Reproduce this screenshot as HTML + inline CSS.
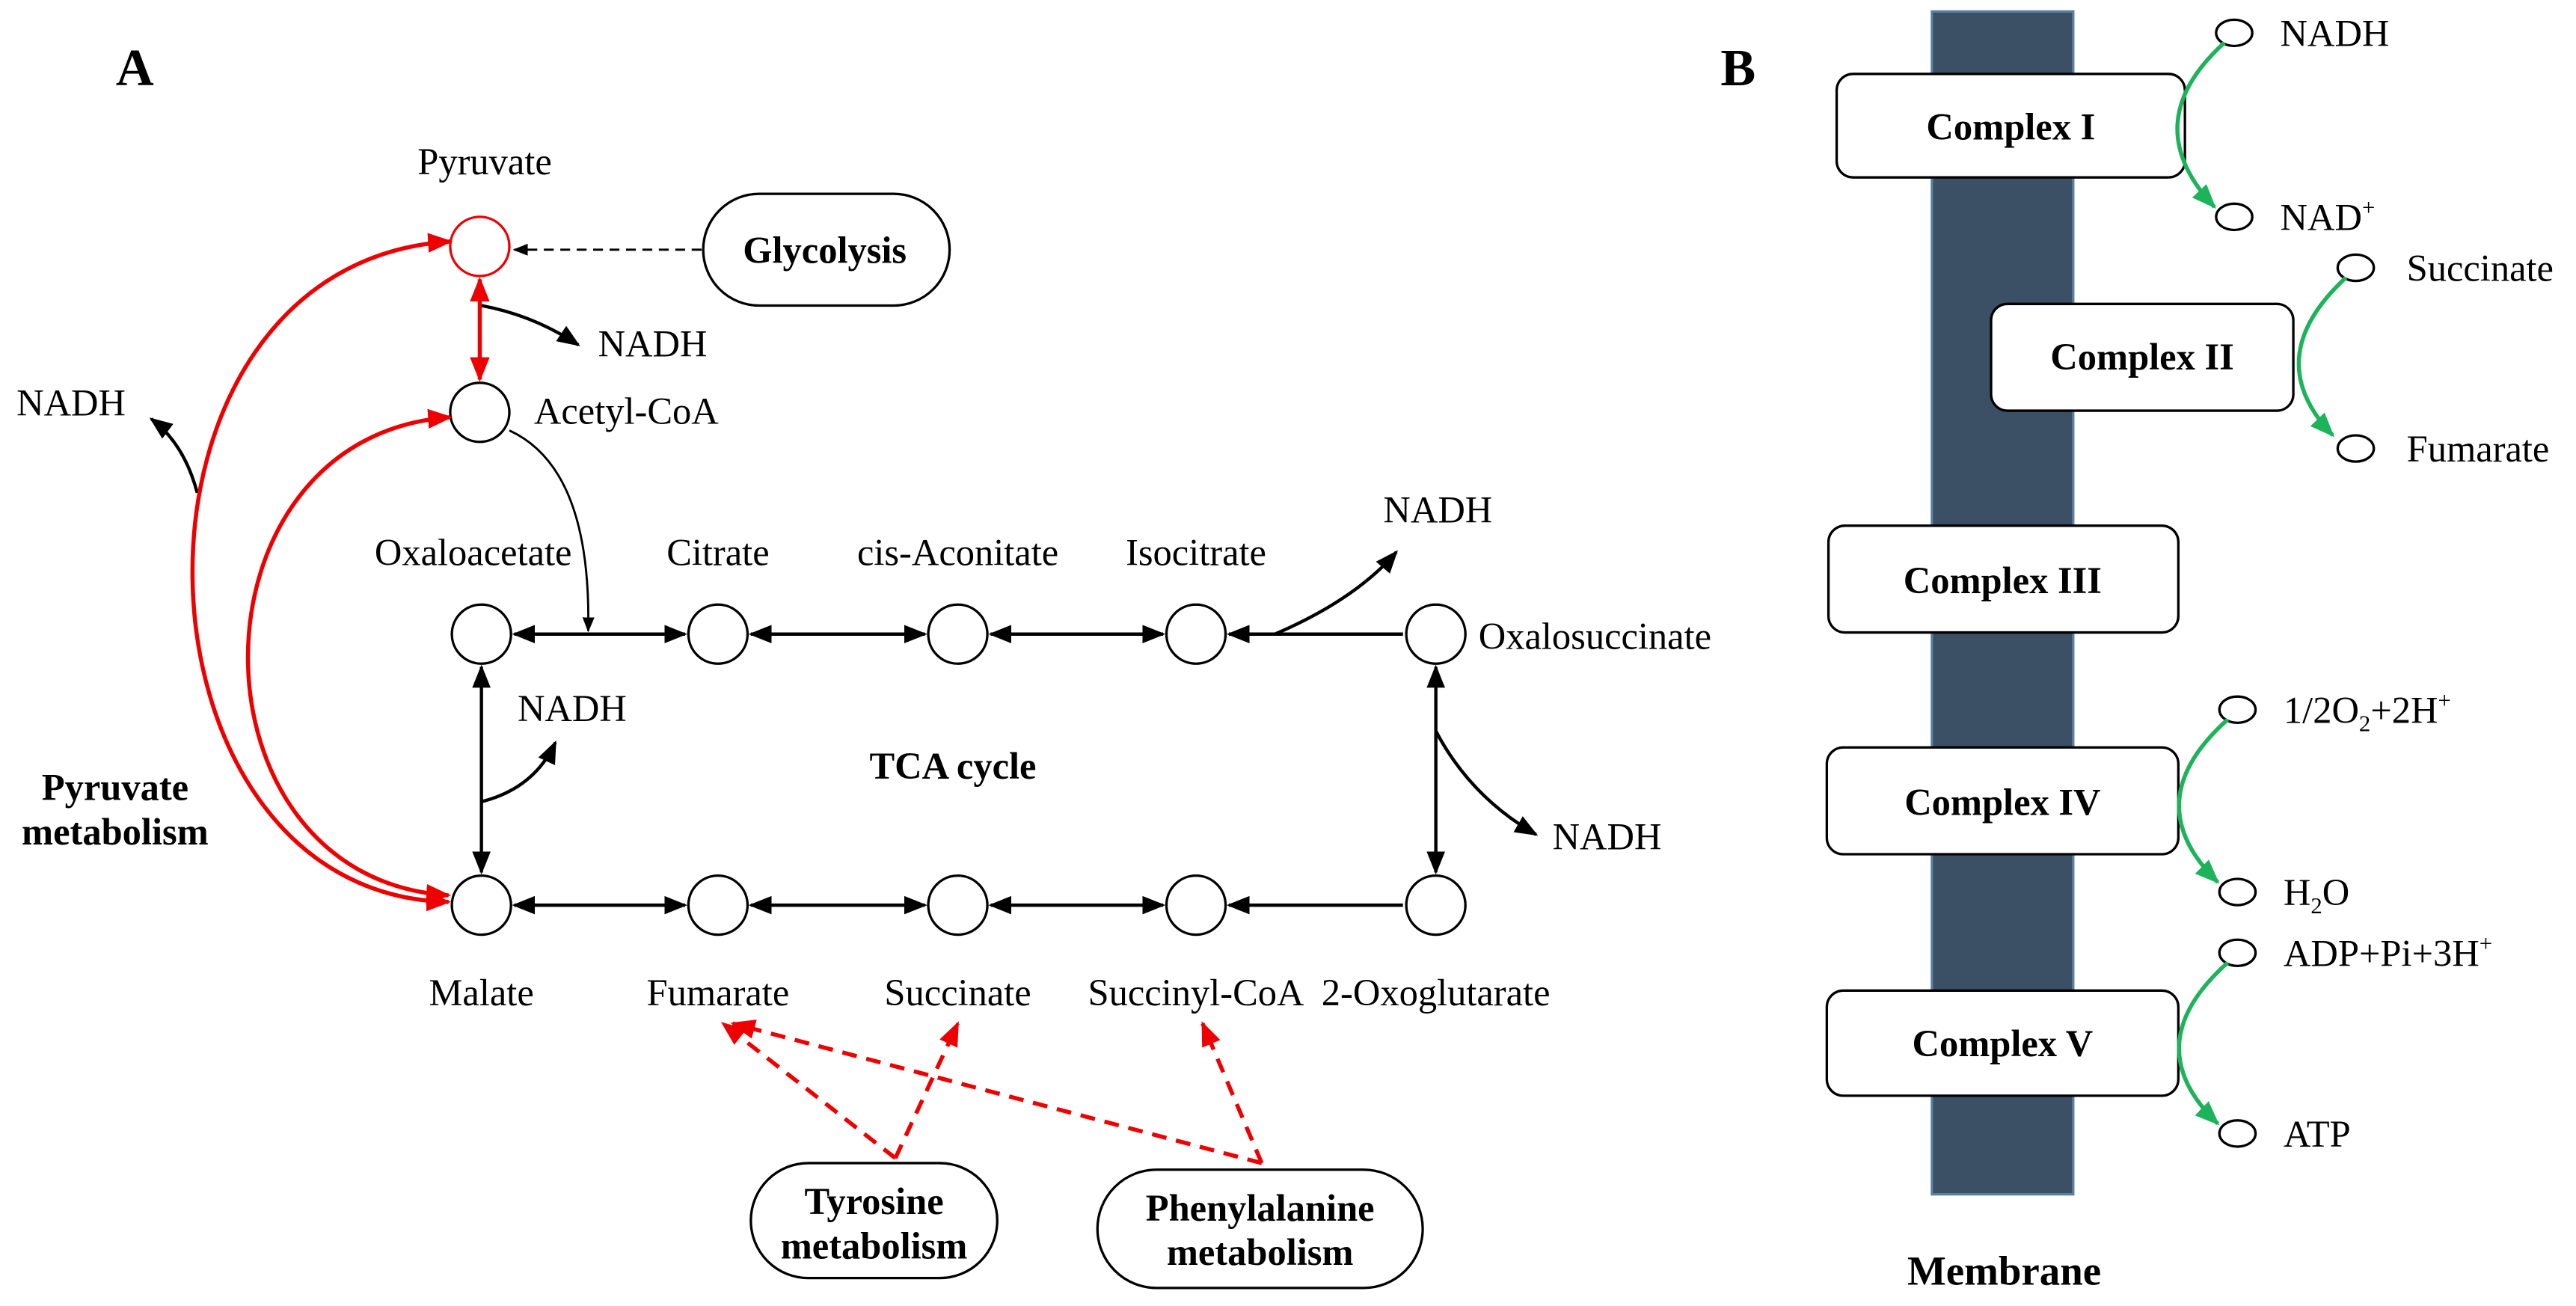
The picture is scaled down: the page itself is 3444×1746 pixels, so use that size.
<!DOCTYPE html>
<html><head><meta charset="utf-8"><style>html,body{margin:0;padding:0;background:#fff}svg{display:block}</style></head><body>
<svg width="3444" height="1746" viewBox="0 0 1568 795" xmlns="http://www.w3.org/2000/svg" font-family="Liberation Serif, serif">
<defs>
<marker id="ak" viewBox="0 0 10 10" refX="9" refY="5" markerWidth="7" markerHeight="7" orient="auto-start-reverse"><path d="M0,1 L10,5 L0,9 z" fill="#000"/></marker>
<marker id="ar" viewBox="0 0 10 10" refX="9" refY="5" markerWidth="6" markerHeight="6" orient="auto-start-reverse"><path d="M0,1 L10,5 L0,9 z" fill="#e00"/></marker>
<marker id="ag" viewBox="0 0 10 10" refX="9" refY="5" markerWidth="6" markerHeight="6" orient="auto-start-reverse"><path d="M0,1 L10,5 L0,9 z" fill="#1db35a"/></marker>
</defs>
<g font-size="23" fill="#000">
<text x="82" y="52" font-size="32" font-weight="bold" text-anchor="middle">A</text>
<text x="1058" y="52" font-size="32" font-weight="bold" text-anchor="middle">B</text>

<text x="295" y="106" text-anchor="middle">Pyruvate</text>
<circle cx="292" cy="150" r="18" fill="#fff" stroke="#e00" stroke-width="1.5"/>
<rect x="428" y="118" width="150" height="68" rx="34" fill="#fff" stroke="#000" stroke-width="1.5"/>
<text x="502" y="160" text-anchor="middle" font-weight="bold">Glycolysis</text>
<line x1="427" y1="152" x2="313" y2="152" stroke="#000" stroke-width="1.3" stroke-dasharray="6,4" marker-end="url(#ak)"/>
<line x1="292" y1="170" x2="292" y2="231" stroke="#e00" stroke-width="2.5" marker-start="url(#ar)" marker-end="url(#ar)"/>
<path d="M293,186 Q325,192 352,210" fill="none" stroke="#000" stroke-width="2" marker-end="url(#ak)"/>
<text x="364" y="217">NADH</text>
<circle cx="292" cy="251" r="18" fill="#fff" stroke="#000" stroke-width="1.5"/>
<text x="325" y="258">Acetyl-CoA</text>

<g fill="#fff" stroke="#000" stroke-width="1.5">
<circle cx="293" cy="386" r="18"/><circle cx="437" cy="386" r="18"/><circle cx="583" cy="386" r="18"/><circle cx="728" cy="386" r="18"/><circle cx="874" cy="386" r="18"/>
<circle cx="293" cy="551" r="18"/><circle cx="437" cy="551" r="18"/><circle cx="583" cy="551" r="18"/><circle cx="728" cy="551" r="18"/><circle cx="874" cy="551" r="18"/>
</g>
<text x="288" y="344" text-anchor="middle">Oxaloacetate</text>
<text x="437" y="344" text-anchor="middle">Citrate</text>
<text x="583" y="344" text-anchor="middle">cis-Aconitate</text>
<text x="728" y="344" text-anchor="middle">Isocitrate</text>
<text x="900" y="395">Oxalosuccinate</text>
<text x="293" y="612" text-anchor="middle">Malate</text>
<text x="437" y="612" text-anchor="middle">Fumarate</text>
<text x="583" y="612" text-anchor="middle">Succinate</text>
<text x="728" y="612" text-anchor="middle">Succinyl-CoA</text>
<text x="874" y="612" text-anchor="middle">2-Oxoglutarate</text>
<g stroke="#000" stroke-width="2" fill="none">
<line x1="313" y1="386" x2="417" y2="386" marker-start="url(#ak)" marker-end="url(#ak)"/>
<line x1="457" y1="386" x2="563" y2="386" marker-start="url(#ak)" marker-end="url(#ak)"/>
<line x1="603" y1="386" x2="708" y2="386" marker-start="url(#ak)" marker-end="url(#ak)"/>
<line x1="748" y1="386" x2="854" y2="386" marker-start="url(#ak)"/>
<line x1="313" y1="551" x2="417" y2="551" marker-start="url(#ak)" marker-end="url(#ak)"/>
<line x1="457" y1="551" x2="563" y2="551" marker-start="url(#ak)" marker-end="url(#ak)"/>
<line x1="603" y1="551" x2="708" y2="551" marker-start="url(#ak)" marker-end="url(#ak)"/>
<line x1="748" y1="551" x2="854" y2="551" marker-start="url(#ak)"/>
<line x1="293" y1="406" x2="293" y2="531" marker-start="url(#ak)" marker-end="url(#ak)"/>
<line x1="874" y1="406" x2="874" y2="531" marker-start="url(#ak)" marker-end="url(#ak)"/>
<path d="M776,386 Q825,365 850,336" marker-end="url(#ak)"/>
<path d="M874,445 Q895,485 935,508" marker-end="url(#ak)"/>
<path d="M293,488 Q325,480 338,452" marker-end="url(#ak)"/>
<path d="M120,300 Q112,270 92,255" marker-end="url(#ak)"/>
</g>
<path d="M310,262 Q360,285 358,384" fill="none" stroke="#000" stroke-width="1.3" marker-end="url(#ak)"/>
<text x="842" y="318">NADH</text>
<text x="945" y="517">NADH</text>
<text x="315" y="439">NADH</text>
<text x="10" y="253">NADH</text>
<text x="580" y="474" text-anchor="middle" font-weight="bold">TCA cycle</text>
<text x="70" y="487" text-anchor="middle" font-weight="bold">Pyruvate</text>
<text x="70" y="514" text-anchor="middle" font-weight="bold">metabolism</text>

<path d="M274,147 C60,160 70,545 273,549" fill="none" stroke="#e00" stroke-width="2.5" marker-start="url(#ar)" marker-end="url(#ar)"/>
<path d="M274,254 C110,265 110,535 273,545" fill="none" stroke="#e00" stroke-width="2.5" marker-start="url(#ar)" marker-end="url(#ar)"/>

<rect x="457" y="708" width="150" height="70" rx="35" fill="#fff" stroke="#000" stroke-width="1.5"/>
<text x="532" y="739" text-anchor="middle" font-weight="bold">Tyrosine</text>
<text x="532" y="766" text-anchor="middle" font-weight="bold">metabolism</text>
<rect x="668" y="712" width="198" height="72" rx="36" fill="#fff" stroke="#000" stroke-width="1.5"/>
<text x="767" y="743" text-anchor="middle" font-weight="bold">Phenylalanine</text>
<text x="767" y="770" text-anchor="middle" font-weight="bold">metabolism</text>
<g stroke="#e00" stroke-width="2.5" stroke-dasharray="9,6" fill="none">
<line x1="545" y1="705" x2="440" y2="623" marker-end="url(#ar)"/>
<line x1="545" y1="705" x2="583" y2="623" marker-end="url(#ar)"/>
<line x1="768" y1="708" x2="446" y2="623" marker-end="url(#ar)"/>
<line x1="768" y1="708" x2="732" y2="623" marker-end="url(#ar)"/>
</g>

<rect x="1176" y="7" width="86" height="720" fill="#3b4f65" stroke="#5a7ea0" stroke-width="1.5"/>
<g fill="#fff" stroke="#000" stroke-width="1.5">
<rect x="1118" y="45" width="212" height="63" rx="10"/>
<rect x="1212" y="185" width="184" height="65" rx="10"/>
<rect x="1113" y="320" width="213" height="65" rx="10"/>
<rect x="1112" y="455" width="214" height="65" rx="10"/>
<rect x="1112" y="603" width="214" height="64" rx="10"/>
</g>
<g font-weight="bold" text-anchor="middle">
<text x="1224" y="85">Complex I</text>
<text x="1304" y="225">Complex II</text>
<text x="1219" y="361">Complex III</text>
<text x="1219" y="496">Complex IV</text>
<text x="1219" y="643">Complex V</text>
</g>
<g fill="#fff" stroke="#000" stroke-width="1.5">
<ellipse cx="1360" cy="20" rx="11" ry="8"/><ellipse cx="1360" cy="132" rx="11" ry="8"/>
<ellipse cx="1434" cy="163" rx="11" ry="8"/><ellipse cx="1434" cy="273" rx="11" ry="8"/>
<ellipse cx="1362" cy="432" rx="11" ry="8"/><ellipse cx="1362" cy="543" rx="11" ry="8"/>
<ellipse cx="1362" cy="580" rx="11" ry="8"/><ellipse cx="1362" cy="690" rx="11" ry="8"/>
</g>
<text x="1388" y="28">NADH</text>
<text x="1388" y="140">NAD<tspan font-size="14" dy="-9">+</tspan></text>
<text x="1465" y="171">Succinate</text>
<text x="1465" y="281">Fumarate</text>
<text x="1390" y="440">1/2O<tspan font-size="14" dy="5">2</tspan><tspan dy="-5">+2H</tspan><tspan font-size="14" dy="-9">+</tspan></text>
<text x="1390" y="551">H<tspan font-size="14" dy="5">2</tspan><tspan dy="-5">O</tspan></text>
<text x="1390" y="588">ADP+Pi+3H<tspan font-size="14" dy="-9">+</tspan></text>
<text x="1390" y="698">ATP</text>
<g stroke="#1db35a" stroke-width="2.5" fill="none">
<path d="M1354,26 Q1300,75 1348,126" marker-end="url(#ag)"/>
<path d="M1428,169 Q1375,218 1420,265" marker-end="url(#ag)"/>
<path d="M1356,438 Q1300,488 1350,537" marker-end="url(#ag)"/>
<path d="M1356,586 Q1300,636 1350,684" marker-end="url(#ag)"/>
</g>
<text x="1220" y="782" font-size="25" font-weight="bold" text-anchor="middle">Membrane</text>
</g>
</svg>
</body></html>
